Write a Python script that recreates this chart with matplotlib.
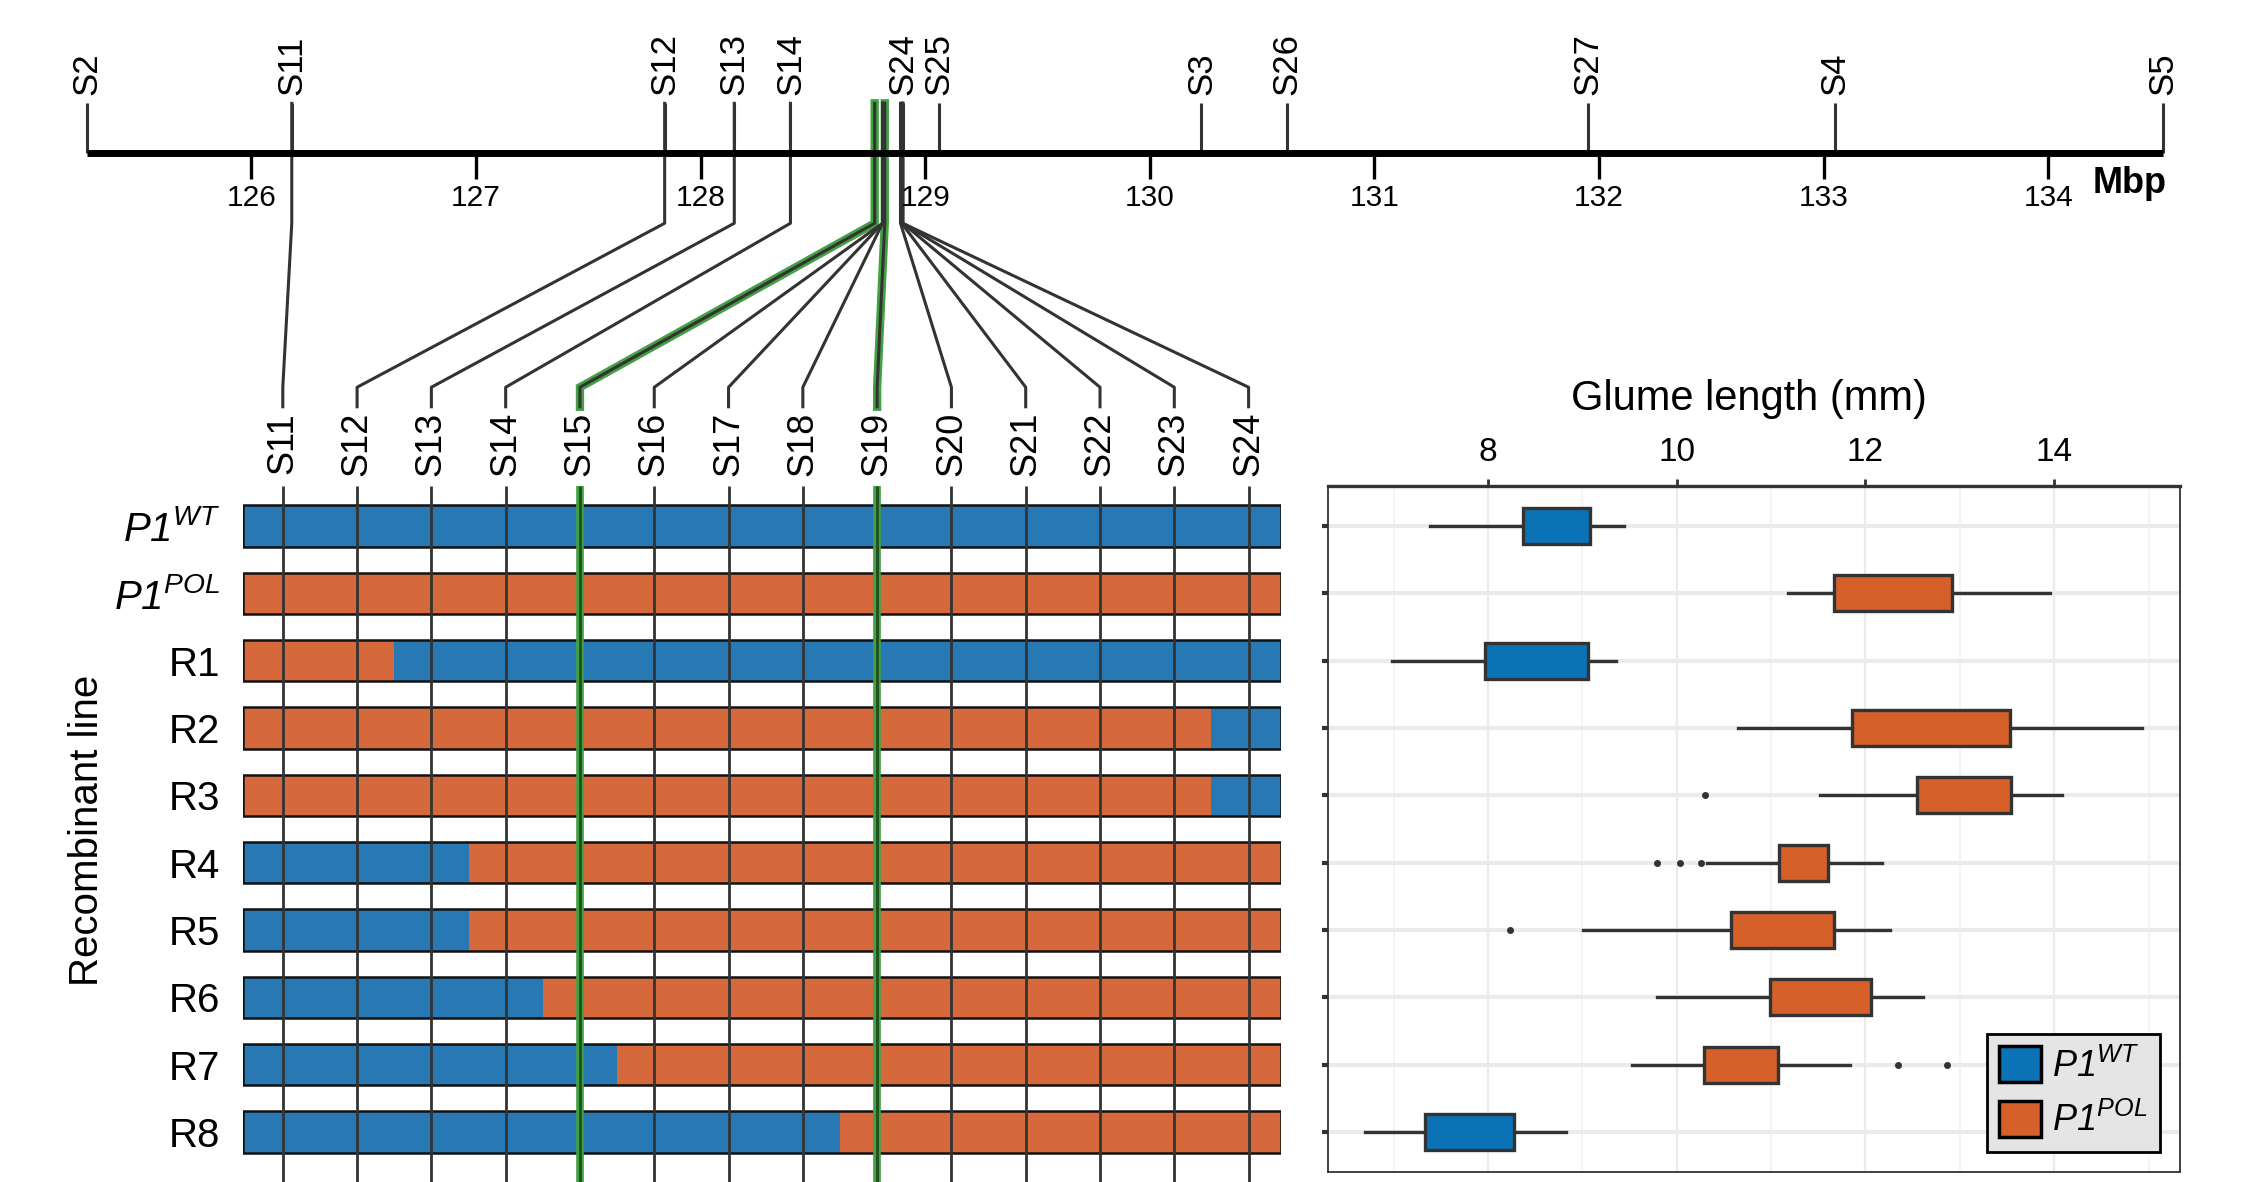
import matplotlib.pyplot as plt
from matplotlib.patches import Patch, Rectangle

plt.rcParams['font.family'] = ['Liberation Sans', 'DejaVu Sans']
plt.rcParams['mathtext.fontset'] = 'custom'
plt.rcParams['mathtext.rm'] = 'Liberation Sans'
# sf slot used for italic so digits stay italic too
plt.rcParams['mathtext.sf'] = 'Liberation Sans:italic'

# physical map markers (Mbp)
top_names = ['S2', 'S11', 'S12', 'S13', 'S14', 'S24', 'S25', 'S3', 'S26', 'S27', 'S4', 'S5']
top_mbp = [125.27, 126.18, 127.84, 128.15, 128.40, 128.90, 129.06, 130.23, 130.61, 131.95, 133.05, 134.51]
mbp_ticks = [126, 127, 128, 129, 130, 131, 132, 133, 134]

# fine-mapping markers shown on the recombinant bars
fine_names = ['S11', 'S12', 'S13', 'S14', 'S15', 'S16', 'S17', 'S18', 'S19', 'S20', 'S21', 'S22', 'S23', 'S24']
fine_mbp = [126.18, 127.84, 128.15, 128.40, 128.775, 128.81, 128.81, 128.81, 128.82,
            128.89, 128.895, 128.90, 128.90, 128.90]
flanking = ['S15', 'S19']

# recombinant lines: genotype at each fine marker (W = P1 WT, P = P1 POL)
line_labels = [r'$\mathsf{P1^{WT}}$', r'$\mathsf{P1^{POL}}$',
               'R1', 'R2', 'R3', 'R4', 'R5', 'R6', 'R7', 'R8']
genotypes = ['WWWWWWWWWWWWWW',
             'PPPPPPPPPPPPPP',
             'PPWWWWWWWWWWWW',
             'PPPPPPPPPPPPPW',
             'PPPPPPPPPPPPPW',
             'WWWPPPPPPPPPPP',
             'WWWPPPPPPPPPPP',
             'WWWWPPPPPPPPPP',
             'WWWWWPPPPPPPPP',
             'WWWWWWWWPPPPPP']

# glume length (mm) box stats per line
phenotype = ['W', 'P', 'W', 'P', 'P', 'P', 'P', 'P', 'P', 'W']
q1 = [8.37, 11.67, 7.97, 11.86, 12.55, 11.08, 10.58, 10.99, 10.29, 7.33]
med = [8.88, 12.35, 8.72, 12.88, 13.04, 11.35, 11.30, 11.54, 10.56, 7.73]
q3 = [9.08, 12.92, 9.06, 13.53, 13.54, 11.60, 11.67, 12.06, 11.07, 8.28]
whis_lo = [7.39, 11.18, 6.98, 10.65, 11.52, 10.32, 9.01, 9.79, 9.53, 6.70]
whis_hi = [9.44, 13.95, 9.36, 14.93, 14.08, 12.18, 12.26, 12.61, 11.84, 8.83]
outliers = [[], [], [], [], [10.30], [9.79, 10.04, 10.26], [8.23], [], [12.34, 12.86], []]

bar_col = {'W': '#2878B4', 'P': '#D6693C'}
box_col = {'W': '#0B72B5', 'P': '#D5602A'}
dark = '#333333'
green = '#43A043'

W, H = 1568, 818


def rect(l, t, r, b):
    return [l / W, 1 - b / H, (r - l) / W, (b - t) / H]


fig = plt.figure(figsize=(22.65, 11.82), dpi=100)

# ---- top: physical map ----
ax_map = fig.add_axes(rect(0, 0, W, 300))
ax_map.set_xlim(126 - 174 / 155.5, 126 + (W - 174) / 155.5)
ax_map.set_ylim(300, 0)
ax_map.axis('off')

ax_map.plot([top_mbp[0], top_mbp[-1]], [106, 106], color='black', lw=5, solid_capstyle='butt', zorder=3)
ax_map.vlines(mbp_ticks, 106, 124, color='black', lw=2.4)
for t in mbp_ticks:
    ax_map.text(t, 137, str(t), ha='center', va='center', fontsize=21.5)
ax_map.text(134.36, 127, 'Mbp', ha='center', va='center', fontsize=26, fontweight='bold')
ax_map.vlines(top_mbp, 71.5, 106, color=dark, lw=2.2)
for n, m in zip(top_names, top_mbp):
    ax_map.text(m, 66, n, rotation=90, ha='center', va='bottom', fontsize=25)

# ---- recombinant bars ----
ax_bar = fig.add_axes(rect(168, 280, 887, H))
x0, x1 = -0.54, 13.44
ax_bar.set_xlim(x0, x1)
ybot = (H - 364) / 46.6
ax_bar.set_ylim(ybot, (280 - 364) / 46.6)
ax_bar.patch.set_visible(False)
for s in ax_bar.spines.values():
    s.set_visible(False)
ax_bar.set_xticks([])

for r, g in enumerate(genotypes):
    edges = [x0] + [i + 0.5 for i in range(len(g) - 1) if g[i] != g[i + 1]] + [x1]
    starts = [0] + [i + 1 for i in range(len(g) - 1) if g[i] != g[i + 1]]
    for k in range(len(edges) - 1):
        ax_bar.barh(r, edges[k + 1] - edges[k], left=edges[k], height=0.61,
                    color=bar_col[g[starts[k]]], lw=0, zorder=1)
    ax_bar.add_patch(Rectangle((x0, r - 0.305), x1 - x0, 0.61, fill=False,
                               edgecolor='#111111', lw=1.8, zorder=2))

for i, n in enumerate(fine_names):
    if n in flanking:
        ax_bar.vlines(i, -0.6, ybot, color=green, lw=5.5, zorder=3)
        ax_bar.vlines(i, -0.6, ybot, color='#1f4f1f', lw=2.0, zorder=4)
    else:
        ax_bar.vlines(i, -0.6, ybot, color=dark, lw=2.0, zorder=3)
    ax_bar.text(i, -1.223, n, rotation=90, ha='center', va='center', fontsize=26)

ax_bar.set_yticks(range(len(line_labels)))
ax_bar.set_yticklabels(line_labels, fontsize=29)
ax_bar.tick_params(axis='y', length=0, pad=16)

# ---- connectors from map to fine markers ----
disp = ax_bar.transData.transform([(i, 0) for i in range(len(fine_names))])
bot_mbp = ax_map.transData.inverted().transform(disp)[:, 0]
for n, m, b in zip(fine_names, fine_mbp, bot_mbp):
    xs = [m, m, b, b]
    ys = [71.5, 154.5, 268, 281.5]
    if n in flanking:
        ax_map.plot(xs, ys, color=green, lw=6, solid_joinstyle='miter', zorder=1)
    ax_map.plot(xs, ys, color=dark, lw=2.2, zorder=2)

fig.text(60 / W, 1 - 575 / H, 'Recombinant line', rotation=90, ha='center', va='center', fontsize=29)

# ---- glume length box plot ----
ax_box = fig.add_axes(rect(919, 336.5, 1509, 811))
stats = []
for i in range(len(med)):
    stats.append(dict(med=med[i], q1=q1[i], q3=q3[i], whislo=whis_lo[i], whishi=whis_hi[i],
                      fliers=outliers[i]))
bp = ax_box.bxp(stats, positions=range(len(med)), widths=0.535, orientation='horizontal',
                patch_artist=True, showcaps=False,
                boxprops=dict(edgecolor=dark, linewidth=2.4),
                medianprops=dict(color=dark, linewidth=3),
                whiskerprops=dict(color=dark, linewidth=2.4),
                flierprops=dict(marker='o', markersize=4, markerfacecolor=dark, markeredgecolor=dark))
for patch, p in zip(bp['boxes'], phenotype):
    patch.set_facecolor(box_col[p])
    patch.set_zorder(3)

ax_box.set_xlim(6.3, 15.33)
ax_box.set_ylim(9.59, -0.59)
ax_box.set_xticks([8, 10, 12, 14])
ax_box.set_xticks([7, 9, 11, 13, 15], minor=True)
ax_box.set_yticks(range(len(med)))
ax_box.set_yticklabels([])
ax_box.xaxis.tick_top()
ax_box.tick_params(axis='x', which='major', length=5, width=2, color=dark, pad=8, labelsize=24)
ax_box.tick_params(axis='x', which='minor', length=0)
ax_box.tick_params(axis='y', length=4, width=3, color=dark)
ax_box.grid(axis='x', which='major', color='#EBEBEB', lw=1.6)
ax_box.grid(axis='x', which='minor', color='#F2F2F2', lw=1.2)
ax_box.grid(axis='y', color='#EBEBEB', lw=3)
ax_box.set_axisbelow(True)
for side in ['left', 'right', 'bottom']:
    ax_box.spines[side].set_color(dark)
    ax_box.spines[side].set_linewidth(1.3)
ax_box.spines['top'].set_color(dark)
ax_box.spines['top'].set_linewidth(2.4)

fig.text(1211 / W, 1 - 276 / H, 'Glume length (mm)', ha='center', va='center', fontsize=30)

handles = [Patch(facecolor=box_col['W'], edgecolor='black', lw=2.5),
           Patch(facecolor=box_col['P'], edgecolor='black', lw=2.5)]
leg = ax_box.legend(handles, [r'$\mathsf{P1^{WT}}$', r'$\mathsf{P1^{POL}}$'],
                    loc='lower right', bbox_to_anchor=(1495 / W, 1 - 797 / H),
                    bbox_transform=fig.transFigure, borderaxespad=0, fontsize=26,
                    fancybox=False, facecolor='#E5E5E5', edgecolor='black', framealpha=1,
                    handlelength=1.15, handleheight=1.15, handletextpad=0.3, labelspacing=0.45,
                    borderpad=0.35)
leg.get_frame().set_linewidth(2)

fig.savefig('out.png', dpi=100)
